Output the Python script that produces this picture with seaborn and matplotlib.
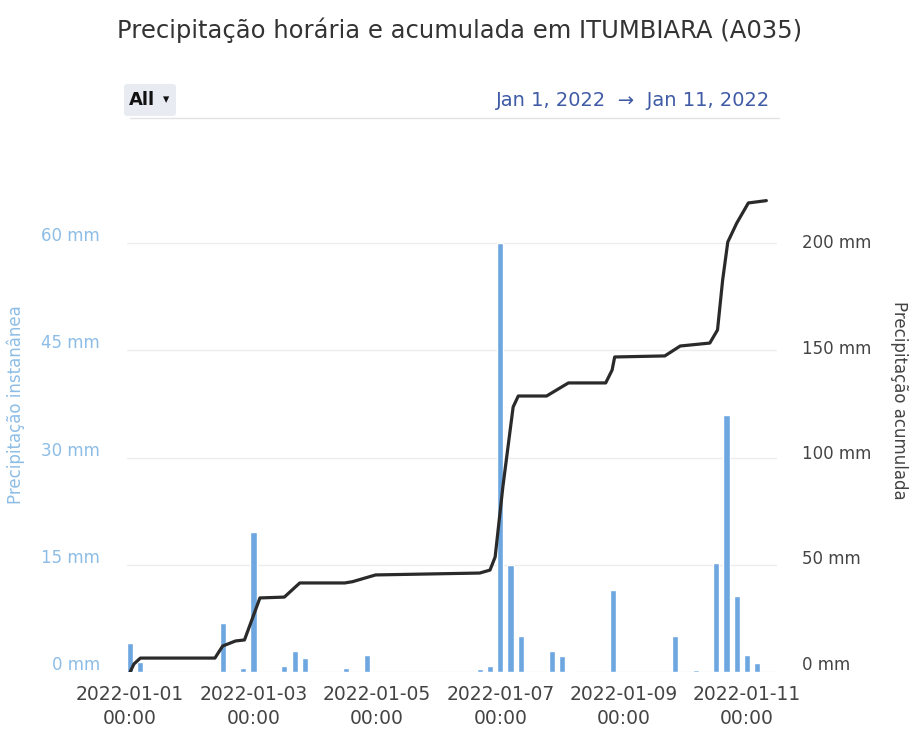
import matplotlib
matplotlib.use("Agg")
import pandas as pd
import seaborn as sns
import matplotlib.pyplot as plt
import matplotlib.dates as mdates
from matplotlib import transforms
from matplotlib.patches import FancyBboxPatch
from matplotlib.lines import Line2D

# precipitação em blocos de 4 h (mm)
bar_times = [
    "2022-01-01 00:00", "2022-01-01 04:00", "2022-01-02 12:00", "2022-01-02 20:00",
    "2022-01-03 00:00", "2022-01-03 12:00", "2022-01-03 16:00", "2022-01-03 20:00",
    "2022-01-04 12:00", "2022-01-04 20:00", "2022-01-06 16:00", "2022-01-06 20:00",
    "2022-01-07 00:00", "2022-01-07 04:00", "2022-01-07 08:00", "2022-01-07 20:00",
    "2022-01-08 00:00", "2022-01-08 04:00", "2022-01-08 20:00", "2022-01-09 20:00",
    "2022-01-10 04:00", "2022-01-10 12:00", "2022-01-10 16:00", "2022-01-10 20:00",
    "2022-01-11 00:00", "2022-01-11 04:00",
]
bar_mm = [
    4.0, 1.4, 6.9, 0.6,
    19.6, 0.9, 3.0, 1.9,
    0.6, 2.4, 0.4, 0.9,
    60.0, 15.0, 5.0, 3.0,
    2.3, 0.1, 11.4, 5.0,
    0.3, 15.3, 35.9, 10.6,
    2.4, 1.2,
]

# precipitação acumulada (mm)
cum_times = [
    "2022-01-01 00:00", "2022-01-01 01:30", "2022-01-01 04:00", "2022-01-02 09:00",
    "2022-01-02 12:00", "2022-01-02 17:00", "2022-01-02 20:30", "2022-01-03 02:30",
    "2022-01-03 12:00", "2022-01-03 18:00", "2022-01-04 11:30", "2022-01-04 14:30",
    "2022-01-04 23:30", "2022-01-06 16:00", "2022-01-06 20:00", "2022-01-06 22:00",
    "2022-01-07 01:00", "2022-01-07 05:00", "2022-01-07 07:00", "2022-01-07 18:00",
    "2022-01-08 02:30", "2022-01-08 17:00", "2022-01-08 19:30", "2022-01-08 20:30",
    "2022-01-09 16:00", "2022-01-09 22:00", "2022-01-10 09:30", "2022-01-10 12:30",
    "2022-01-10 14:30", "2022-01-10 16:30", "2022-01-10 20:00", "2022-01-11 00:30",
    "2022-01-11 07:30",
]
cum_mm = [
    0.0, 3.8, 6.6, 6.6,
    12.3, 14.7, 15.2, 35.1,
    35.5, 42.2, 42.2, 42.8,
    46.0, 46.9, 48.3, 54.5,
    87.7, 125.6, 130.8, 130.8,
    137.0, 137.0, 143.1, 149.3,
    149.8, 154.5, 155.9, 162.1,
    185.8, 203.8, 212.8, 222.3,
    223.4,
]

left_ticks = [0, 15, 30, 45, 60]
right_ticks = [0, 50, 100, 150, 200]
date_ticks = ["2022-01-01", "2022-01-03", "2022-01-05", "2022-01-07", "2022-01-09", "2022-01-11"]

BAR_COLOR = "#6ea7e0"
LEFT_COLOR = "#8dbde6"
LINE_COLOR = "#2a2a2a"
TEXT_COLOR = "#444444"

sns.set_style("white")
plt.rcParams["font.family"] = ["DejaVu Sans"]

W, H = 919, 738
fig = plt.figure(figsize=(W / 100, H / 100), dpi=100)

# área do gráfico em pixels
x0, x1, y_base, y_top = 127, 777, 672, 180
ax1 = fig.add_axes([x0 / W, 1 - y_base / H, (x1 - x0) / W, (y_base - y_top) / H])
ax2 = ax1.twinx()

df_bars = pd.DataFrame({"t": mdates.date2num(pd.to_datetime(bar_times)), "mm": bar_mm})
sns.barplot(data=df_bars, x="t", y="mm", native_scale=True, width=0.6,
            color=BAR_COLOR, saturation=1, errorbar=None, ax=ax1, zorder=2)

df_cum = pd.DataFrame({"t": mdates.date2num(pd.to_datetime(cum_times)), "mm": cum_mm})
sns.lineplot(data=df_cum, x="t", y="mm", color=LINE_COLOR, linewidth=2.3,
             ax=ax2, sort=False)
for ln in ax2.lines:
    ln.set_solid_joinstyle("round")
    ln.set_solid_capstyle("round")

start = mdates.date2num(pd.Timestamp("2022-01-01 00:00"))
ax1.set_xlim(start - 0.05, start + 10.485)
ax1.set_ylim(0, (y_base - y_top) / 7.15)
ax2.set_ylim(0, (y_base - y_top) / 2.11)

ax1.set_xticks(mdates.date2num(pd.to_datetime(date_ticks)))
ax1.xaxis.set_major_formatter(mdates.DateFormatter("%Y-%m-%d\n%H:%M"))
ax1.tick_params(axis="x", length=7, color="#d0d0d0", labelsize=13.5,
                labelcolor=TEXT_COLOR, pad=2)
for lab in ax1.get_xticklabels():
    lab.set_linespacing(1.35)

ax1.set_yticks(left_ticks)
ax1.set_yticklabels([f"{v} mm" for v in left_ticks])
ax1.tick_params(axis="y", length=0, labelsize=12, labelcolor=LEFT_COLOR, pad=19.5)
ax2.set_yticks(right_ticks)
ax2.set_yticklabels([f"{v} mm" for v in right_ticks])
ax2.tick_params(axis="y", length=0, labelsize=12, labelcolor=TEXT_COLOR, pad=18)

# rótulos ficam um pouco acima das linhas de grade
shift = transforms.ScaledTranslation(0, 9 / 100, fig.dpi_scale_trans)
for lab in ax1.get_yticklabels() + ax2.get_yticklabels():
    lab.set_transform(lab.get_transform() + shift)

ax1.set_xlabel("")
ax1.set_ylabel("Precipitação instanânea", color=LEFT_COLOR, fontsize=12)
ax2.set_xlabel("")
ax2.set_ylabel("Precipitação acumulada", color=TEXT_COLOR, fontsize=12, rotation=270)
ax1.yaxis.set_label_coords(-(127 - 25) / (x1 - x0), (y_base - 405) / (y_base - y_top))
ax2.yaxis.set_label_coords(1 + (908 - 777) / (x1 - x0), (y_base - 400) / (y_base - y_top))

ax1.grid(axis="y", color="#ececec", linewidth=1)
ax1.grid(axis="x", visible=False)
ax2.grid(False)
ax1.set_axisbelow(True)
for a in (ax1, ax2):
    for s in a.spines.values():
        s.set_visible(False)
ax1.set_facecolor("none")

# título e controles
fig.text(0.5, 1 - 30 / H, "Precipitação horária e acumulada em ITUMBIARA (A035)",
         ha="center", va="center", fontsize=17.5, color="#333333")
fig.patches.append(FancyBboxPatch((124 / W, 1 - 116 / H), 52 / W, 32 / H,
                                  boxstyle="round,pad=0,rounding_size=0.004",
                                  transform=fig.transFigure, facecolor="#e8ebf2",
                                  edgecolor="none"))
fig.text(129 / W, 1 - 100 / H, "All", ha="left", va="center", fontsize=13,
         fontweight="bold", color="#111111")
fig.text(163 / W, 1 - 100 / H, "▾", ha="left", va="center", fontsize=9, color="#111111")
fig.text(770 / W, 1 - 100 / H, "Jan 1, 2022  →  Jan 11, 2022", ha="right",
         va="center", fontsize=14, color="#3f5ba6")
fig.lines.append(Line2D([130 / W, 779 / W], [1 - 118 / H, 1 - 118 / H],
                        transform=fig.transFigure, color="#e3e3e3", linewidth=1))

fig.savefig("out.png", dpi=100)
